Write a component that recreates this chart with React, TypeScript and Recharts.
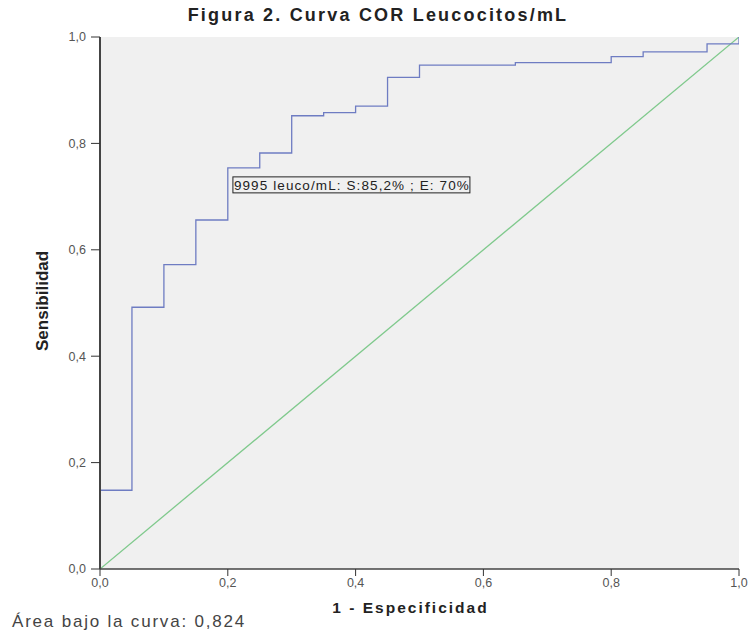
import React from "react";
import {
  LineChart,
  Line,
  XAxis,
  YAxis,
  CartesianGrid,
  ReferenceDot,
} from "recharts";

// 1 - especificidad / sensibilidad
const FPR = [0, 0, 0.05, 0.1, 0.15, 0.2, 0.25, 0.3, 0.35, 0.4, 0.45, 0.5, 0.65, 0.8, 0.85, 0.95, 1.0];
const TPR = [0, 0.148, 0.492, 0.572, 0.656, 0.754, 0.782, 0.852, 0.858, 0.87, 0.924, 0.947, 0.952, 0.963, 0.972, 0.987, 1.0];

const DIAGONAL = [
  { x: 0, y: 0 },
  { x: 1, y: 1 },
];

const TICKS = [0, 0.2, 0.4, 0.6, 0.8, 1.0];

const CUTOFF = { x: 0.208, y: 0.707, text: "9995 leuco/mL: S:85,2% ; E: 70%" };

const rocData = FPR.map((x, i) => ({ x, y: TPR[i] }));

const fmt = (v: number) => v.toFixed(1).replace(".", ",");

const FONT = "Liberation Sans, Arial, sans-serif";
const tickStyle = { fontSize: 12.5, fill: "#555", fontFamily: FONT };

function CutoffLabel(props: any) {
  const { cx, cy } = props;
  const w = 237;
  const h = 16;
  return (
    <g>
      <rect x={cx} y={cy - h} width={w} height={h} fill="#f0f0f0" stroke="#222" strokeWidth={1} />
      <text
        x={cx + 1}
        y={cy - 3}
        fontSize={13.5}
        letterSpacing={1.1}
        fill="#222"
        fontFamily={FONT}
      >
        {CUTOFF.text}
      </text>
    </g>
  );
}

export default function App() {
  return (
    <div
      style={{
        position: "absolute",
        left: 0,
        top: 0,
        width: 751,
        height: 632,
        background: "#fff",
        fontFamily: FONT,
      }}
    >
      <div
        style={{
          position: "absolute",
          left: 0,
          width: 756,
          top: 5,
          textAlign: "center",
          fontSize: 18,
          fontWeight: "bold",
          letterSpacing: 2.2,
          color: "#222",
        }}
      >
        Figura 2. Curva COR Leucocitos/mL
      </div>
      <div
        style={{
          position: "absolute",
          left: 12,
          top: 612,
          fontSize: 17,
          letterSpacing: 1.8,
          color: "#444",
        }}
      >
        Área bajo la curva: 0,824
      </div>
      <LineChart
        width={751}
        height={632}
        margin={{ top: 37, right: 12, bottom: 33, left: 0 }}
      >
        <CartesianGrid
          horizontal={false}
          vertical={false}
          fill="#f0f0f0"
          stroke="none"
        />
        <XAxis
          type="number"
          dataKey="x"
          domain={[0, 1]}
          ticks={TICKS}
          tickFormatter={fmt}
          height={30}
          tick={tickStyle}
          tickSize={7}
          tickLine={{ stroke: "#333" }}
          axisLine={{ stroke: "#444", strokeWidth: 1.5 }}
          allowDataOverflow
          label={{
            value: "1 - Especificidad",
            position: "insideBottom",
            offset: -14,
            dx: -9,
            style: { fontSize: 15.5, fontWeight: "bold", fill: "#222", letterSpacing: 2 },
          }}
        />
        <YAxis
          type="number"
          domain={[0, 1]}
          ticks={TICKS}
          tickFormatter={fmt}
          width={100}
          tick={{ ...tickStyle, dx: -3 }}
          tickSize={9}
          tickLine={{ stroke: "#333" }}
          axisLine={{ stroke: "#444", strokeWidth: 2 }}
          allowDataOverflow
          label={{
            value: "Sensibilidad",
            angle: -90,
            position: "insideLeft",
            offset: 42,
            dy: 48,
            style: {
              fontSize: 17,
              fontWeight: "bold",
              fill: "#222",
              fontFamily: "Liberation Sans Narrow, Arial Narrow, sans-serif",
            },
          }}
        />
        <XAxis xAxisId="top" orientation="top" type="number" domain={[0, 1]} tick={false} tickLine={false} height={0} axisLine={{ stroke: "#666", strokeWidth: 1.5 }} />
        <YAxis yAxisId="right" orientation="right" type="number" domain={[0, 1]} tick={false} tickLine={false} width={0} axisLine={{ stroke: "#555", strokeWidth: 1.5 }} />
        <Line
          data={DIAGONAL}
          dataKey="y"
          type="linear"
          stroke="#7fc98c"
          strokeWidth={1.3}
          dot={false}
          isAnimationActive={false}
        />
        <Line
          data={rocData}
          dataKey="y"
          type="stepAfter"
          stroke="#6e7cc2"
          strokeWidth={1.3}
          dot={false}
          isAnimationActive={false}
        />
        <ReferenceDot
          x={CUTOFF.x}
          y={CUTOFF.y}
          r={0}
          shape={CutoffLabel}
          ifOverflow="visible"
        />
      </LineChart>
    </div>
  );
}
